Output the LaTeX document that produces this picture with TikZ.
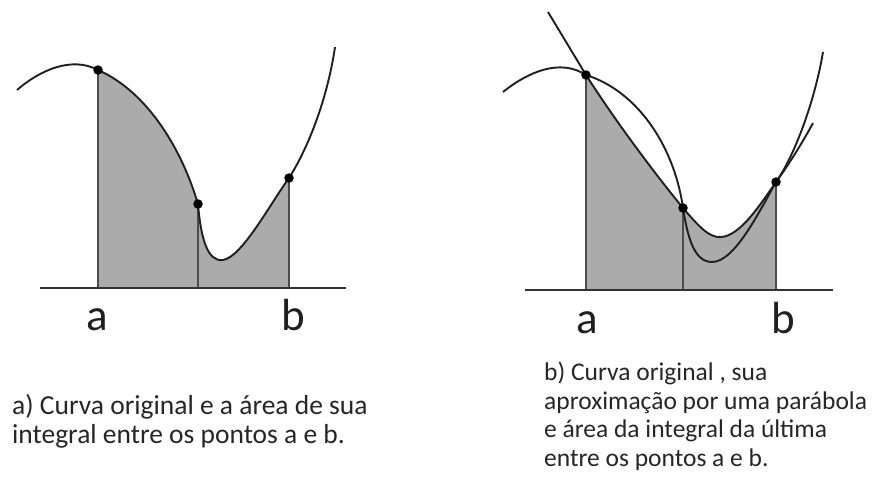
\documentclass[tikz,border=0pt]{standalone}
\usepackage{fontspec}
\setmainfont{Carlito}
\begin{document}
\begin{tikzpicture}[x=1pt,y=-1pt,
  curve/.style={draw=black!88,line width=1.9pt},
  axisline/.style={draw=black!80,line width=1.8pt},
  vline/.style={draw=black!70,line width=1.6pt},
  area/.style={fill=black!33},
  dot/.style={circle,fill=black,inner sep=0pt,minimum size=9.5pt},
  lbl/.style={font=\fontsize{45}{48}\selectfont,text=black!88,anchor=base,inner sep=0pt},
  captxt/.style={align=left,anchor=north west,inner sep=0pt,text=black!85}]
\useasboundingbox (0,0) rectangle (881,482);
% ---------- panel a ----------
\coordinate (A1) at (98,70);
\coordinate (M1) at (198,204);
\coordinate (B1) at (289,178);
\coordinate (L1) at (223,260);
\fill[area] (98,288) -- (A1) .. controls (148,92) and (182,150) .. (M1)
  .. controls (201,240) and (208,262) .. (L1)
  .. controls (242,257) and (270,204) .. (B1) -- (289,288) -- cycle;
\draw[vline] (98,288) -- (A1);
\draw[vline] (198,288) -- (M1);
\draw[vline] (289,288) -- (B1);
\draw[curve] (17,90) .. controls (40,70) and (72,56) .. (A1)
  .. controls (148,92) and (182,150) .. (M1)
  .. controls (201,240) and (208,262) .. (L1)
  .. controls (242,257) and (270,204) .. (B1)
  .. controls (310,145) and (328,95) .. (335,47);
\draw[axisline] (40,288) -- (346,288);
\node[dot] (pa1) at (A1) {};
\node[dot] (pm1) at (M1) {};
\node[dot] (pb1) at (B1) {};
\node[lbl] (la1) at (97,330) {a};
\node[lbl] (lb1) at (293,330) {b};
% ---------- panel b ----------
\coordinate (A2) at (586,75);
\coordinate (M2) at (683,208);
\coordinate (B2) at (776,182);
\fill[area] (586,290) -- (A2) .. controls (620,128) and (660,180) .. (M2)
  .. controls (700,228) and (710,238) .. (721,237)
  .. controls (740,236) and (760,205) .. (B2) -- (776,290) -- cycle;
\draw[vline] (586,290) -- (A2);
\draw[vline] (683,290) -- (M2);
\draw[vline] (776,290) -- (B2);
% original curve
\draw[curve] (503,92) .. controls (528,72) and (560,58) .. (A2)
  .. controls (640,92) and (675,150) .. (M2)
  .. controls (688,240) and (695,262) .. (712,262)
  .. controls (735,262) and (760,210) .. (B2)
  .. controls (795,155) and (815,100) .. (823,52);
% parabola
\draw[curve] (548,12) -- (A2)
  .. controls (620,128) and (660,180) .. (M2)
  .. controls (700,228) and (710,238) .. (721,237)
  .. controls (740,236) and (760,205) .. (B2)
  .. controls (790,163) and (805,138) .. (813,123);
\draw[axisline] (525,290) -- (833,290);
\node[dot] (pa2) at (A2) {};
\node[dot] (pm2) at (M2) {};
\node[dot] (pb2) at (B2) {};
\node[lbl] (la2) at (587,333) {a};
\node[lbl] (lb2) at (783,333) {b};
% ---------- captions ----------
\node[captxt,font=\fontsize{27.5}{29}\selectfont] (capa) at (12,394) {a) Curva original e a área de sua\\integral entre os pontos a e b.};
\node[captxt,font=\fontsize{25.5}{28.5}\selectfont] (capb) at (544,362) {b) Curva original , sua\\aproximação por uma parábola\\e área da integral da última\\entre os pontos a e b.};
\end{tikzpicture}
\end{document}
